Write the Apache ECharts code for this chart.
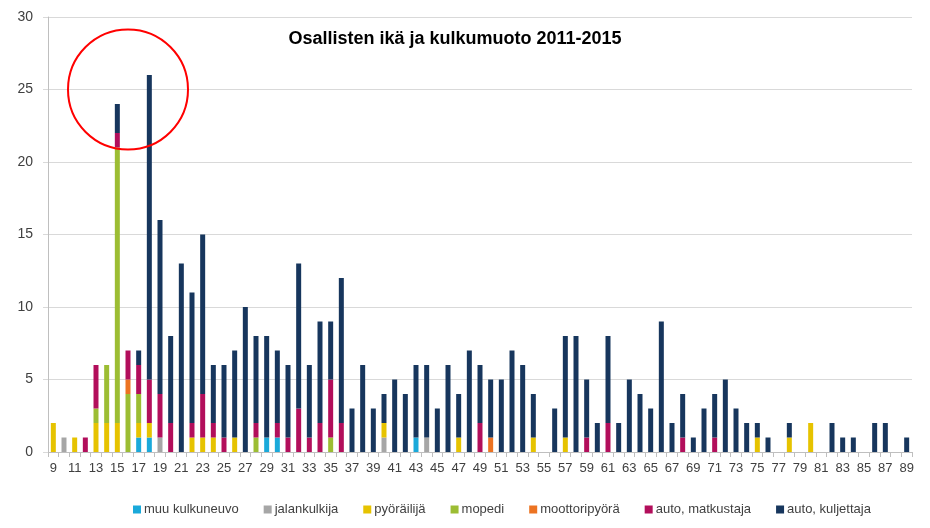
<!DOCTYPE html>
<html>
<head>
<meta charset="utf-8">
<script src="https://cdn.jsdelivr.net/npm/echarts@6/dist/echarts.min.js"></script>
<style>
html,body{margin:0;padding:0;background:#fff;}
#c{width:930px;height:528px;}
</style>
</head>
<body>
<div id="c"></div>
<script>
// Ages 9..89
var ages = [];
for (var a = 9; a <= 89; a++) ages.push(String(a));

var titleText = 'Osallisten ikä ja kulkumuoto 2011-2015';
var seriesNames = ['muu kulkuneuvo', 'jalankulkija', 'pyöräilijä', 'mopedi', 'moottoripyörä', 'auto, matkustaja', 'auto, kuljettaja'];
var yTicks = [0, 5, 10, 15, 20, 25, 30];

var muuKulkuneuvo = [
  0,0,0,0,0,0,0,0,1,1,
  0,0,0,0,0,0,0,0,0,0,
  1,1,0,0,0,0,0,0,0,0,
  0,0,0,0,1,0,0,0,0,0,
  0,0,0,0,0,0,0,0,0,0,
  0,0,0,0,0,0,0,0,0,0,
  0,0,0,0,0,0,0,0,0,0,
  0,0,0,0,0,0,0,0,0,0,
  0];
var jalankulkija = [
  0,1,0,0,0,0,0,0,0,0,
  1,0,0,0,0,0,0,0,0,0,
  0,0,0,0,0,0,0,0,0,0,
  0,1,0,0,0,1,0,0,0,0,
  0,0,0,0,0,0,0,0,0,0,
  0,0,0,0,0,0,0,0,0,0,
  0,0,0,0,0,0,0,0,0,0,
  0,0,0,0,0,0,0,0,0,0,
  0];
var pyorailija = [
  2,0,1,0,2,2,2,0,1,1,
  0,0,0,1,1,1,0,1,0,0,
  0,0,0,0,0,0,0,0,0,0,
  0,1,0,0,0,0,0,0,1,0,
  0,0,0,0,0,1,0,0,1,0,
  0,0,0,0,0,0,0,0,0,0,
  0,0,0,0,0,0,1,0,0,1,
  0,2,0,0,0,0,0,0,0,0,
  0];
var mopedi = [
  0,0,0,0,1,4,19,4,2,0,
  0,0,0,0,0,0,0,0,0,1,
  0,0,0,0,0,0,1,0,0,0,
  0,0,0,0,0,0,0,0,0,0,
  0,0,0,0,0,0,0,0,0,0,
  0,0,0,0,0,0,0,0,0,0,
  0,0,0,0,0,0,0,0,0,0,
  0,0,0,0,0,0,0,0,0,0,
  0];
var moottoripyora = [
  0,0,0,0,0,0,0,1,0,0,
  0,0,0,0,0,0,0,0,0,0,
  0,0,0,0,0,0,0,0,0,0,
  0,0,0,0,0,0,0,0,0,0,
  0,1,0,0,0,0,0,0,0,0,
  0,0,0,0,0,0,0,0,0,0,
  0,0,0,0,0,0,0,0,0,0,
  0,0,0,0,0,0,0,0,0,0,
  0];
var autoMatkustaja = [
  0,0,0,1,3,0,1,2,2,3,
  3,2,0,1,3,1,1,0,0,1,
  0,1,1,3,1,2,4,2,0,0,
  0,0,0,0,0,0,0,0,0,0,
  2,0,0,0,0,0,0,0,0,0,
  1,0,2,0,0,0,0,0,0,1,
  0,0,1,0,0,0,0,0,0,0,
  0,0,0,0,0,0,0,0,0,0,
  0];
var autoKuljettaja = [
  0,0,0,0,0,0,2,0,1,21,
  12,6,13,9,11,4,5,6,10,6,
  7,5,5,10,5,7,4,10,3,6,
  3,2,5,4,5,5,3,6,3,7,
  4,4,5,7,6,3,0,3,7,8,
  4,2,6,2,5,4,3,9,2,3,
  1,3,3,5,3,2,1,1,0,1,
  0,0,0,2,1,1,0,2,2,0,
  1];

var seriesData = [muuKulkuneuvo, jalankulkija, pyorailija, mopedi, moottoripyora, autoMatkustaja, autoKuljettaja];
var colors = ['#1aa9da', '#a6a6a6', '#e6c300', '#9cbd33', '#ec7322', '#b20e5b', '#17365d'];

var chart = echarts.init(document.getElementById('c'), null, {renderer: 'canvas'});
var FONT = 'Liberation Sans, Arial, sans-serif';

var series = seriesNames.map(function (n, i) {
  return {
    name: n,
    type: 'bar',
    stack: 'total',
    barWidth: 5,
    data: seriesData[i],
    itemStyle: {color: colors[i]},
    emphasis: {disabled: true}
  };
});

chart.setOption({
  animation: false,
  backgroundColor: '#ffffff',
  color: colors,
  textStyle: {fontFamily: FONT},
  title: {
    text: titleText,
    left: 450,
    textAlign: 'center',
    top: 25,
    textStyle: {fontSize: 18, fontWeight: 'bold', color: '#000', fontFamily: FONT}
  },
  legend: {
    data: seriesNames,
    left: 128,
    top: 498,
    icon: 'rect',
    itemWidth: 8,
    itemHeight: 8,
    itemGap: 25,
    textStyle: {fontSize: 13, color: '#404040', fontFamily: FONT, padding: [0, 0, 0, -2]}
  },
  grid: {left: 48, right: 18, top: 17, bottom: 76, containLabel: false},
  xAxis: {
    type: 'category',
    data: ages,
    axisLine: {lineStyle: {color: '#bfbfbf', width: 1}},
    axisTick: {show: true, interval: 0, length: 5, lineStyle: {color: '#bfbfbf'}},
    axisLabel: {interval: 1, color: '#404040', fontSize: 13, margin: 10, fontFamily: FONT},
    splitLine: {show: false}
  },
  yAxis: {
    type: 'value',
    min: yTicks[0],
    max: yTicks[yTicks.length - 1],
    interval: yTicks[1] - yTicks[0],
    axisLine: {show: true, lineStyle: {color: '#bfbfbf'}},
    axisTick: {show: true, length: 5, lineStyle: {color: '#d9d9d9'}},
    axisLabel: {color: '#404040', fontSize: 14, margin: 15, fontFamily: FONT},
    splitLine: {show: true, lineStyle: {color: '#d9d9d9', width: 1}}
  },
  series: series
});

// Red annotation circle around the peak (centered on age 16, value 25)
var ctr = chart.convertToPixel({xAxisIndex: 0, yAxisIndex: 0}, ['16', 25]);
chart.setOption({
  graphic: [{
    type: 'circle',
    shape: {cx: ctr[0], cy: ctr[1], r: 60},
    style: {fill: 'none', stroke: '#ff0000', lineWidth: 2},
    z: 100
  }]
});
</script>
</body>
</html>
